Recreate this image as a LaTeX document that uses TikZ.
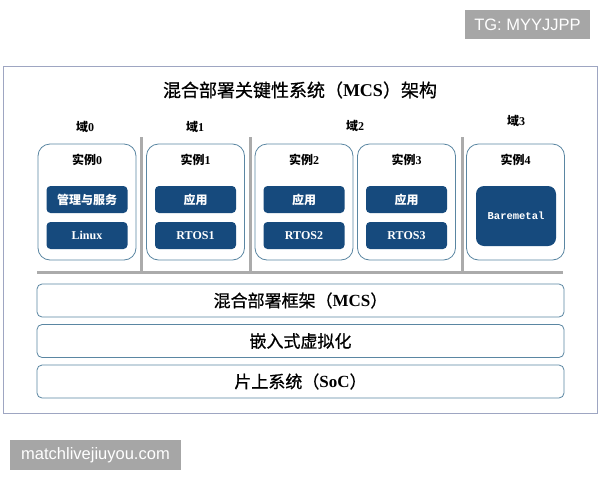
\documentclass[tikz,border=0pt]{standalone}
\usepackage{fontspec}
\usepackage{xcolor}
\setmainfont{Liberation Serif}
\newfontfamily\cjk{Noto Sans CJK SC}
\newfontfamily\cjkmid[FakeBold=0.8]{Noto Sans CJK SC}
\newfontfamily\wmfont{Liberation Sans}
\newfontfamily\bmfont{Liberation Mono}

\definecolor{darkblue}{HTML}{164A7D}
\definecolor{instline}{HTML}{5A86A2}
\definecolor{frameline}{HTML}{9EA6C2}
\definecolor{sepgray}{HTML}{ABABAB}
\definecolor{wmgray}{HTML}{A6A6A6}

\begin{document}
\begin{tikzpicture}[x=1pt,y=-1pt,
  inst/.style={draw=instline,line width=0.8pt,rounded corners=12pt,minimum width=98pt,minimum height=116pt},
  blk/.style={fill=darkblue,rounded corners=4pt,text=white,minimum width=81pt,minimum height=27pt,font=\bfseries\fontsize{12}{14}\selectfont},
  bar/.style={draw=instline,line width=0.8pt,rounded corners=5pt,minimum width=527pt,minimum height=33pt,font=\fontsize{17}{20}\selectfont},
  dom/.style={font=\bfseries\fontsize{12}{14}\selectfont},
  lbl/.style={font=\bfseries\fontsize{12}{14}\selectfont},
  sep/.style={draw=sepgray,line width=3pt},
  wm/.style={fill=wmgray,text=white,inner sep=0pt,font=\wmfont\fontsize{16.5}{18}\selectfont}]

\fill[white] (0,0) rectangle (600,480);
\useasboundingbox (0,0) rectangle (600,480);

% watermarks
\node[wm,minimum width=125pt,minimum height=29pt] (tg) at (527.5,24.5) {TG: MYYJJPP};
\node[wm,minimum width=171pt,minimum height=30pt] (site) at (95.5,455) {matchlivejiuyou.com};

% frame and title
\draw[frameline,line width=1pt] (3,66) rectangle (597,413);
\node[font=\fontsize{18}{20}\selectfont] (title) at (300,90) {{\cjkmid 混合部署关键性系统（}\textbf{MCS}{\cjkmid ）架构}};

% domains
\node[dom] (dom0) at (85,127) {{\cjk 域}0};
\node[dom] (dom1) at (195,127) {{\cjk 域}1};
\node[dom] (dom2) at (355,126) {{\cjk 域}2};
\node[dom] (dom3) at (516,121) {{\cjk 域}3};

\draw[sep] (141,137) -- (141,273);
\draw[sep] (250,137) -- (250,273);
\draw[sep] (462,137) -- (462,273);
\draw[sep] (37,272) -- (563,272);

% instances
\node[inst] (inst0) at (87,202) {};
\node[inst] (inst1) at (195.5,202) {};
\node[inst] (inst2) at (304,202) {};
\node[inst] (inst3) at (406.5,202) {};
\node[inst] (inst4) at (515.5,202) {};

\node[lbl] (name0) at (87,160) {{\cjk 实例}0};
\node[lbl] (name1) at (195.5,160) {{\cjk 实例}1};
\node[lbl] (name2) at (304,160) {{\cjk 实例}2};
\node[lbl] (name3) at (406.5,160) {{\cjk 实例}3};
\node[lbl] (name4) at (515.5,160) {{\cjk 实例}4};

\node[blk] (mgmt) at (87,199.5) {\cjk 管理与服务};
\node[blk] (linux) at (87,235.5) {Linux};
\node[blk] (app1) at (195.5,199.5) {\cjk 应用};
\node[blk] (rtos1) at (195.5,235.5) {RTOS1};
\node[blk] (app2) at (304,199.5) {\cjk 应用};
\node[blk] (rtos2) at (304,235.5) {RTOS2};
\node[blk] (app3) at (406.5,199.5) {\cjk 应用};
\node[blk] (rtos3) at (406.5,235.5) {RTOS3};
\node[blk,minimum width=80pt,minimum height=60pt,rounded corners=8pt,font=\bmfont\bfseries\fontsize{10.5}{12}\selectfont] (bare) at (516,216) {Baremetal};

% layers
\node[bar] (mcs) at (300.5,300.5) {{\cjkmid 混合部署框架（}\textbf{MCS}{\cjkmid ）}};
\node[bar] (virt) at (300.5,341) {\cjkmid 嵌入式虚拟化};
\node[bar] (soc) at (300.5,381.5) {{\cjkmid 片上系统（}\textbf{SoC}{\cjkmid ）}};
\end{tikzpicture}
\end{document}
